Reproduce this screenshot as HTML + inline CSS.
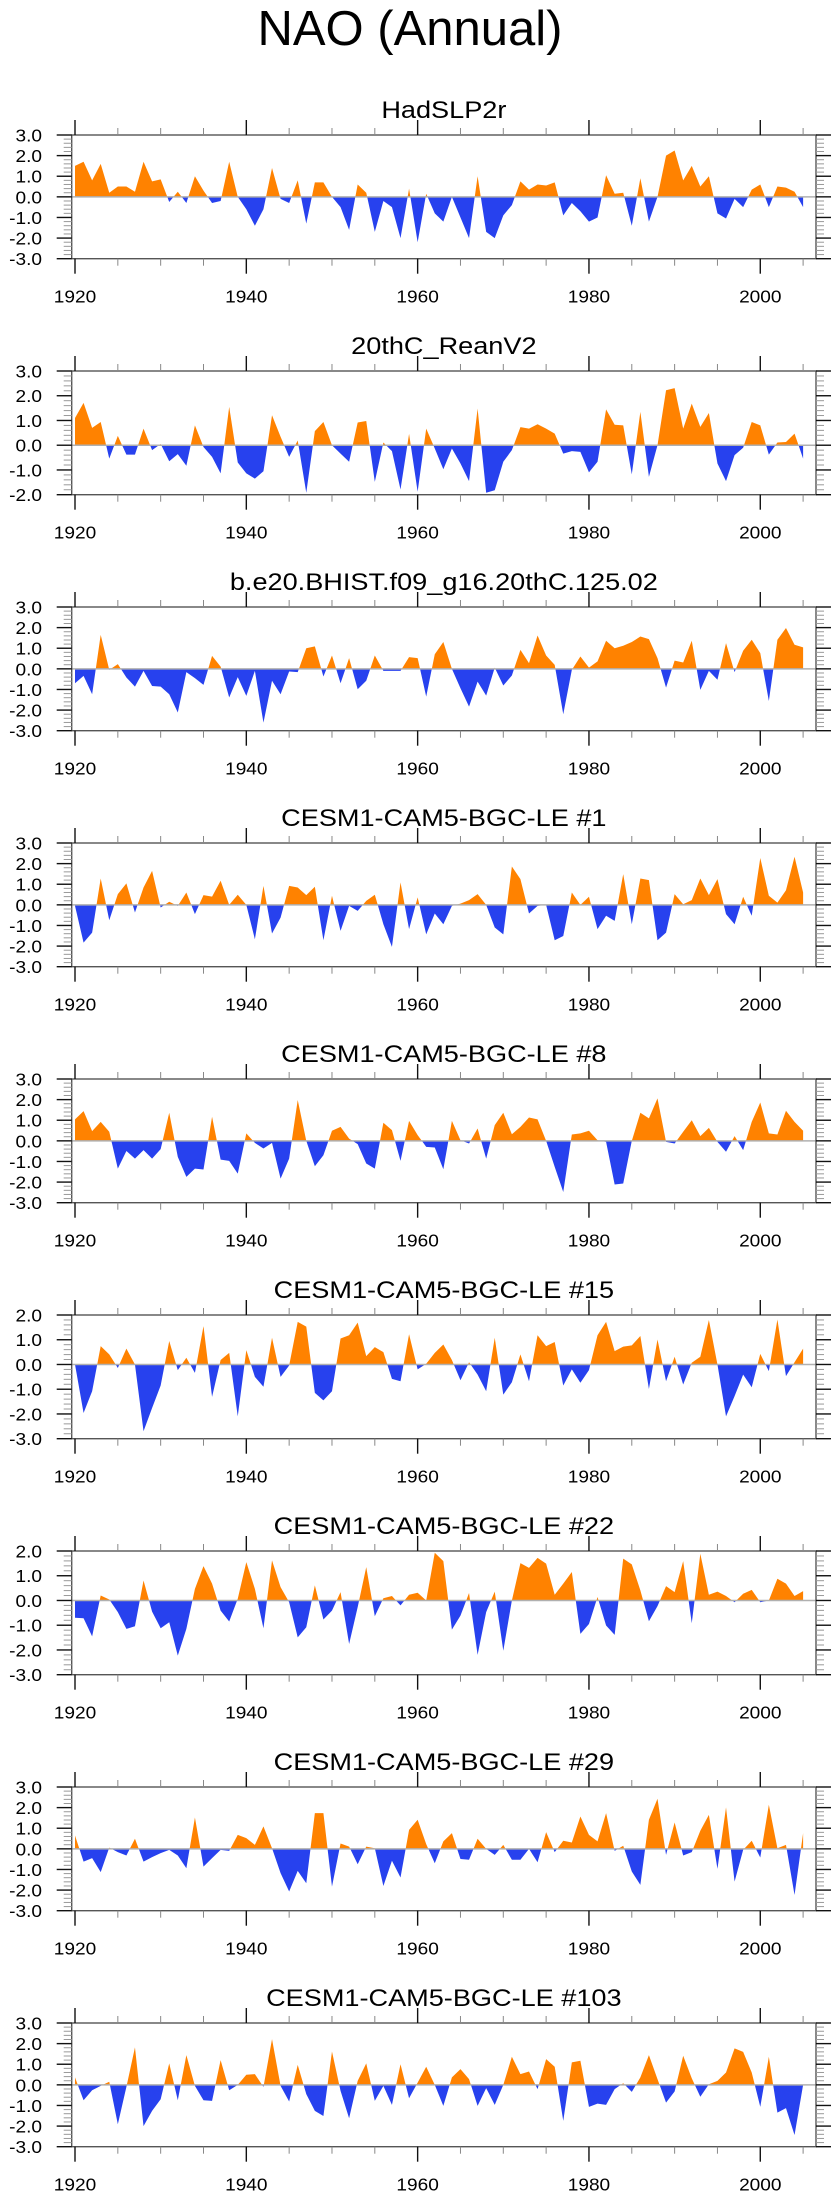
<!DOCTYPE html>
<html><head><meta charset="utf-8"><title>NAO (Annual)</title>
<style>
html,body{margin:0;padding:0;background:#fff;}
svg{display:block;font-family:"Liberation Sans",Arial,sans-serif;}
</style></head>
<body>
<svg id="chart" width="840" height="2200" viewBox="0 0 840 2200" xmlns="http://www.w3.org/2000/svg">
<text x="410" y="45" font-size="49" text-anchor="middle" fill="#000">NAO (Annual)</text>
</svg>
<script>
const startYear = 1920;
const titles = ["HadSLP2r","20thC_ReanV2","b.e20.BHIST.f09_g16.20thC.125.02","CESM1-CAM5-BGC-LE #1","CESM1-CAM5-BGC-LE #8","CESM1-CAM5-BGC-LE #15","CESM1-CAM5-BGC-LE #22","CESM1-CAM5-BGC-LE #29","CESM1-CAM5-BGC-LE #103"];
const yMaxes = [3,3,3,3,3,2,2,3,3];
const yMins = [-3,-2,-3,-3,-3,-3,-3,-3,-3];
const xTickYears = [1920,1940,1960,1980,2000];
const hadslp = [1.5,1.7,0.8,1.6,0.2,0.5,0.5,0.25,1.7,0.75,0.85,-0.25,0.25,-0.3,1.0,0.3,-0.3,-0.2,1.7,0.0,-0.6,-1.4,-0.6,1.4,-0.1,-0.3,0.8,-1.3,0.7,0.7,0.0,-0.5,-1.6,0.6,0.2,-1.7,-0.2,-0.5,-2.0,0.4,-2.2,0.15,-0.8,-1.2,0.0,-1.0,-2.0,1.0,-1.7,-2.0,-0.9,-0.4,0.75,0.35,0.6,0.55,0.7,-0.9,-0.3,-0.7,-1.2,-1.0,1.05,0.15,0.2,-1.4,0.9,-1.2,0.0,2.0,2.25,0.8,1.5,0.5,1.0,-0.8,-1.05,-0.1,-0.5,0.35,0.6,-0.5,0.5,0.45,0.25,-0.5];
const reanv2 = [1.1,1.71,0.7,0.94,-0.54,0.38,-0.38,-0.38,0.67,-0.2,0.05,-0.65,-0.36,-0.83,0.8,-0.07,-0.47,-1.14,1.55,-0.7,-1.14,-1.35,-1.05,1.21,0.34,-0.47,0.19,-1.92,0.57,0.94,0.0,-0.34,-0.67,0.92,0.98,-1.48,0.11,-0.24,-1.79,0.46,-1.88,0.67,-0.13,-0.97,-0.13,-0.74,-1.45,1.48,-1.92,-1.82,-0.67,-0.2,0.73,0.67,0.85,0.67,0.47,-0.34,-0.24,-0.27,-1.1,-0.67,1.45,0.83,0.8,-1.18,1.35,-1.28,0.0,2.22,2.31,0.67,1.68,0.74,1.3,-0.74,-1.45,-0.4,-0.1,0.94,0.8,-0.38,0.11,0.13,0.47,-0.54];
const bhist = [-0.7,-0.34,-1.23,1.65,-0.05,0.23,-0.42,-0.86,-0.1,-0.83,-0.86,-1.23,-2.12,-0.16,-0.45,-0.78,0.63,0.11,-1.39,-0.4,-1.31,-0.1,-2.61,-0.58,-1.23,-0.13,-0.16,1.0,1.09,-0.37,0.65,-0.7,0.52,-0.99,-0.58,0.65,-0.1,-0.1,-0.1,0.57,0.52,-1.35,0.71,1.3,0.0,-0.94,-1.83,-0.62,-1.3,0.06,-0.81,-0.32,0.92,0.28,1.62,0.65,0.19,-2.2,-0.05,0.6,0.06,0.36,1.36,1.0,1.12,1.3,1.57,1.44,0.52,-0.91,0.4,0.31,1.36,-1.02,-0.1,-0.53,1.25,-0.16,0.88,1.41,0.76,-1.56,1.41,1.98,1.17,1.04];
const le1 = [-0.05,-1.83,-1.35,1.28,-0.75,0.52,1.04,-0.37,0.84,1.65,-0.13,0.15,-0.05,0.6,-0.45,0.47,0.4,1.17,0.0,0.49,0.0,-1.67,0.92,-1.39,-0.62,0.92,0.84,0.47,0.88,-1.72,0.44,-1.26,-0.05,-0.29,0.19,0.49,-0.94,-2.04,1.09,-1.18,0.36,-1.43,-0.42,-0.94,-0.05,0.06,0.23,0.52,0.0,-1.1,-1.43,1.86,1.25,-0.42,-0.05,0.0,-1.72,-1.51,0.6,0.0,0.39,-1.18,-0.53,-0.78,1.49,-0.94,1.28,1.2,-1.72,-1.35,0.52,0.03,0.23,1.28,0.47,1.25,-0.45,-0.94,0.39,-0.53,2.27,0.44,0.11,0.71,2.33,0.6];
const le8 = [1.04,1.44,0.47,0.92,0.44,-1.35,-0.49,-0.86,-0.45,-0.86,-0.4,1.36,-0.78,-1.75,-1.35,-1.39,1.17,-0.91,-0.97,-1.59,0.36,-0.1,-0.37,-0.1,-1.83,-0.86,1.98,0.0,-1.23,-0.7,0.49,0.68,0.11,-0.16,-1.1,-1.35,0.88,0.52,-0.97,0.97,0.28,-0.29,-0.32,-1.38,0.97,0.03,-0.13,0.6,-0.86,0.76,1.36,0.32,0.68,1.13,1.04,0.0,-1.26,-2.48,0.31,0.36,0.49,0.03,-0.05,-2.12,-2.07,0.0,1.36,1.09,2.06,-0.05,-0.13,0.44,1.0,0.23,0.63,-0.05,-0.53,0.23,-0.45,0.92,1.86,0.36,0.31,1.46,0.92,0.49];
const le15 = [0.0,-1.96,-1.08,0.74,0.41,-0.14,0.64,0.0,-2.7,-1.76,-0.85,0.95,-0.23,0.27,-0.34,1.55,-1.31,0.18,0.47,-2.1,0.58,-0.5,-0.9,1.08,-0.5,-0.04,1.72,1.53,-1.15,-1.45,-1.08,1.05,1.18,1.69,0.34,0.7,0.5,-0.58,-0.68,1.22,-0.2,0.03,0.47,0.81,0.18,-0.64,0.09,-0.41,-1.08,1.08,-1.22,-0.72,0.41,-0.68,1.18,0.74,0.91,-0.85,-0.2,-0.74,-0.23,1.18,1.72,0.54,0.72,0.77,1.15,-0.99,1.01,-0.68,0.31,-0.81,0.07,0.31,1.8,0.0,-2.1,-1.28,-0.41,-0.92,0.43,-0.27,1.82,-0.47,0.09,0.64];
const le22 = [-0.7,-0.72,-1.45,0.2,0.04,-0.47,-1.15,-1.04,0.81,-0.45,-1.12,-0.88,-2.23,-1.15,0.47,1.39,0.68,-0.41,-0.85,0.07,1.55,0.47,-1.12,1.62,0.54,-0.07,-1.49,-1.08,0.61,-0.77,-0.41,0.34,-1.76,-0.27,1.35,-0.64,0.09,0.18,-0.2,0.23,0.31,0.0,1.93,1.59,-1.18,-0.61,0.3,-2.2,-0.47,0.36,-2.03,0.0,1.51,1.32,1.72,1.49,0.23,0.68,1.15,-1.35,-0.95,0.14,-1.01,-1.39,1.69,1.46,0.41,-0.84,-0.23,0.58,0.34,1.59,-0.92,1.89,0.23,0.36,0.18,-0.07,0.27,0.43,-0.07,0.0,0.88,0.68,0.18,0.38];
const le29 = [0.65,-0.62,-0.45,-1.13,0.06,-0.16,-0.32,0.49,-0.62,-0.4,-0.21,-0.05,-0.32,-0.94,1.52,-0.86,-0.45,-0.05,-0.1,0.68,0.52,0.19,1.09,0.03,-1.18,-2.07,-1.07,-1.67,1.73,1.73,-1.83,0.26,0.11,-0.75,0.11,0.03,-1.8,-0.58,-1.39,0.92,1.41,0.23,-0.7,0.36,0.76,-0.49,-0.53,0.49,0.0,-0.29,0.19,-0.53,-0.53,0.0,-0.65,0.81,-0.16,0.39,0.31,1.57,0.68,0.36,1.73,-0.1,0.15,-1.1,-1.75,1.41,2.43,-0.29,1.28,-0.32,-0.16,0.88,1.65,-0.97,2.01,-1.59,-0.05,0.39,-0.42,2.14,0.03,0.19,-2.24,0.76];
const le103 = [0.36,-0.75,-0.26,-0.05,0.15,-1.91,-0.1,1.82,-2.0,-1.26,-0.7,1.04,-0.75,1.44,-0.05,-0.75,-0.78,1.2,-0.26,0.0,0.49,0.52,-0.1,2.22,-0.05,-0.81,0.97,-0.45,-1.26,-1.51,1.62,-0.29,-1.62,0.19,1.04,-0.78,-0.05,-0.97,1.0,-0.65,0.11,0.88,0.0,-1.02,0.36,0.76,0.28,-1.02,-0.16,-0.97,0.0,1.36,0.52,0.65,-0.21,1.25,0.88,-1.75,1.09,1.17,-1.07,-0.91,-0.97,-0.21,0.08,-0.34,0.36,1.44,0.28,-0.86,-0.32,1.41,0.32,-0.58,0.03,0.19,0.6,1.77,1.6,0.6,-1.07,1.36,-1.35,-1.13,-2.43,0.0];
const allSeries = [hadslp,reanv2,bhist,le1,le8,le15,le22,le29,le103];

const NS = "http://www.w3.org/2000/svg";
const svg = document.getElementById('chart');
const L = 71.7, R = 816, PH = 123.7, X0 = 75, XS = 8.566;
function xPos(yr){ return X0 + (yr - 1920) * XS; }
function mk(tag, attrs, parent){
  const e = document.createElementNS(NS, tag);
  for (const k in attrs) e.setAttribute(k, attrs[k]);
  parent.appendChild(e);
  return e;
}
function fmt(v){ return v.toFixed(1); }

allSeries.forEach((data, p) => {
  const top = 135 + 236 * p;
  const bot = top + PH;
  const ymax = yMaxes[p], ymin = yMins[p];
  const yPos = v => top + (ymax - v) / (ymax - ymin) * PH;
  const g = mk('g', {}, svg);
  
  

  const cx = (L + R) / 2;
  const st = mk('text', {x: cx, y: top - 17, 'font-size': 24, 'text-anchor': 'middle', fill: '#000', transform: 'translate(' + cx + ',0) scale(1.13,1) translate(' + (-cx) + ',0)'}, g);
  
  
  st.textContent = titles[p];

  const cpA = mk('clipPath', {id: 'ca' + p}, g);
  mk('rect', {x: L, y: top, width: R - L, height: yPos(0) - top}, cpA);
  const cpB = mk('clipPath', {id: 'cb' + p}, g);
  mk('rect', {x: L, y: yPos(0), width: R - L, height: bot - yPos(0)}, cpB);

  let pts = xPos(startYear) + ',' + yPos(0) + ' ';
  data.forEach((v, i) => { pts += xPos(startYear + i).toFixed(2) + ',' + yPos(v).toFixed(2) + ' '; });
  pts += xPos(startYear + data.length - 1) + ',' + yPos(0);
  const pa = mk('polygon', {points: pts, fill: '#ff8200', 'clip-path': 'url(#ca' + p + ')'}, g);
  
  
  const pb = mk('polygon', {points: pts, fill: '#2741ee', 'clip-path': 'url(#cb' + p + ')'}, g);
  
  

  const zl = mk('line', {x1: L, x2: R, y1: yPos(0), y2: yPos(0), stroke: '#b0b0b0', 'stroke-width': 1.5}, g);
  
  

  const fr = mk('rect', {x: L, y: top, width: R - L, height: PH, fill: 'none', stroke: '#555', 'stroke-width': 1.4}, g);
  
  

  for (let yr = 1920; yr <= 2005; yr += 5) {
    const major = (yr % 20 === 0);
    const x = xPos(yr);
    const len = major ? 15 : 7;
    const col = major ? '#111' : '#888';
    mk('line', {x1: x, x2: x, y1: bot, y2: bot + len, stroke: col, 'stroke-width': major ? 1.4 : 1}, g);
    mk('line', {x1: x, x2: x, y1: top, y2: top - len, stroke: col, 'stroke-width': major ? 1.4 : 1}, g);
  }
  xTickYears.forEach(yr => {
    const x = xPos(yr);
    const t = mk('text', {x: x, y: bot + 44, 'font-size': 18, 'text-anchor': 'middle', fill: '#000', transform: 'translate(' + x + ',0) scale(1.06,1) translate(' + (-x) + ',0)'}, g);
    
    
    t.textContent = String(yr);
  });

  const nMinor = Math.round((ymax - ymin) / 0.2);
  for (let k = 0; k <= nMinor; k++) {
    const v = ymin + k * 0.2;
    const major = (k % 5 === 0);
    const y = yPos(v);
    const len = major ? 15 : 8;
    const col = major ? '#111' : '#999';
    mk('line', {x1: L, x2: L - len, y1: y, y2: y, stroke: col, 'stroke-width': major ? 1.4 : 1}, g);
    mk('line', {x1: R, x2: R + len, y1: y, y2: y, stroke: col, 'stroke-width': major ? 1.4 : 1}, g);
  }
  for (let v = ymin; v <= ymax + 0.001; v += 1) {
    const t = mk('text', {x: 42, y: yPos(v) + 6.5, 'font-size': 18, 'text-anchor': 'end', fill: '#000', transform: 'translate(42,0) scale(1.06,1) translate(-42,0)'}, g);
    
    
    t.textContent = fmt(v);
  }
});
</script>
</body></html>
